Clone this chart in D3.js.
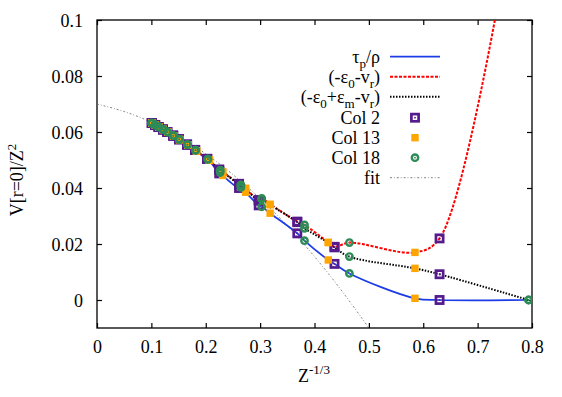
<!DOCTYPE html>
<html><head><meta charset="utf-8">
<script src="https://cdn.jsdelivr.net/npm/d3@7"></script>
<style>
body{margin:0;background:#fff}
</style>
</head><body><svg id="c" width="562" height="397"></svg>
<script>
// ---------- data ----------
const xTicks = [0, 0.1, 0.2, 0.3, 0.4, 0.5, 0.6, 0.7, 0.8];
const yTicks = [0, 0.02, 0.04, 0.06, 0.08, 0.1];

// Col 2 (purple squares)
const col2X     = [0.1007,0.1070,0.1132,0.1213,0.1293,0.1401,0.1507,0.1657,0.1805,0.2027,0.2248,0.2612,0.2974,0.3684,0.4368,0.6300];
const col2Tau   = [0.0632,0.0625,0.0618,0.0609,0.0600,0.0587,0.0574,0.0555,0.0536,0.0504,0.0452,0.0400,0.0338,0.0238,0.0129,0.0000];
const col2Red   = [0.0632,0.0625,0.0618,0.0609,0.0600,0.0587,0.0574,0.0555,0.0536,0.0504,0.0466,0.0415,0.0357,0.0280,0.0190,0.0220];
const col2Black = [0.0632,0.0625,0.0618,0.0609,0.0600,0.0587,0.0574,0.0555,0.0536,0.0504,0.0465,0.0413,0.0355,0.0278,0.0188,0.0092];

// Col 13 (orange squares)
const col13X     = [0.1009,0.1073,0.1137,0.1218,0.1300,0.1409,0.1519,0.1674,0.1831,0.2068,0.2311,0.2733,0.3184,0.4254,0.5848];
const col13Tau   = [0.0632,0.0625,0.0618,0.0609,0.0600,0.0586,0.0573,0.0553,0.0532,0.0499,0.0445,0.0385,0.0310,0.0143,0.0006];
const col13Red   = [0.0632,0.0625,0.0618,0.0609,0.0600,0.0586,0.0573,0.0553,0.0532,0.0499,0.0458,0.0399,0.0342,0.0206,0.0170];
const col13Black = [0.0632,0.0625,0.0618,0.0609,0.0600,0.0586,0.0573,0.0553,0.0532,0.0499,0.0457,0.0397,0.0340,0.0205,0.0113];

// Col 18 (green circles)
const col18X     = [0.1008,0.1071,0.1134,0.1215,0.1296,0.1403,0.1511,0.1662,0.1812,0.2038,0.2265,0.2646,0.3029,0.3816,0.4642,0.7937];
const col18Tau   = [0.0632,0.0625,0.0618,0.0609,0.0600,0.0587,0.0574,0.0555,0.0535,0.0503,0.0455,0.0402,0.0333,0.0212,0.0095,0.0000];
const col18Red   = [0.0632,0.0625,0.0618,0.0609,0.0600,0.0587,0.0574,0.0555,0.0535,0.0503,0.0464,0.0411,0.0363,0.0268,0.0205,0.1700];
const col18Black = [0.0632,0.0625,0.0618,0.0609,0.0600,0.0587,0.0574,0.0555,0.0535,0.0503,0.0463,0.0410,0.0360,0.0256,0.0155,0.0000];

// fit curve
const fitX = [0, 0.05, 0.1, 0.15, 0.2, 0.25, 0.3, 0.35, 0.4, 0.45, 0.5, 0.52];
const fitY = [0.0700, 0.0673, 0.0635, 0.0585, 0.0522, 0.0448, 0.0362, 0.0265, 0.0155, 0.0033, -0.0100, -0.0157];

// ---------- layout ----------
const FONT = "'Liberation Serif', Tinos, 'Times New Roman', Times, serif";
const svg = d3.select("#c");
const L = 97, R = 532, T = 20, B = 328;
const x = d3.scaleLinear().domain([0, 0.8]).range([L, R]);
const y = d3.scaleLinear().domain([-0.01, 0.1]).range([B, T]);

const colors = {blue:"#1c3ce6", red:"#ff0000", black:"#000", purple:"#551a8b", orange:"#ffa500", green:"#2e8b57", fit:"#777"};

svg.append("clipPath").attr("id","clip").append("rect")
  .attr("x",L).attr("y",T).attr("width",R-L).attr("height",B-T);

// axes (ticks inward, mirrored)
const tickLen = 5;
const axB = svg.append("g").attr("transform",`translate(0,${B})`)
  .call(d3.axisBottom(x).tickValues(xTicks).tickSize(-tickLen).tickPadding(12).tickFormat(d3.format("")));
const axT = svg.append("g").attr("transform",`translate(0,${T})`)
  .call(d3.axisTop(x).tickValues(xTicks).tickSize(-tickLen).tickFormat(""));
const axL = svg.append("g").attr("transform",`translate(${L},0)`)
  .call(d3.axisLeft(y).tickValues(yTicks).tickSize(-tickLen).tickPadding(14).tickFormat(d3.format("")));
const axR = svg.append("g").attr("transform",`translate(${R},0)`)
  .call(d3.axisRight(y).tickValues(yTicks).tickSize(-tickLen).tickFormat(""));
[axB,axT,axL,axR].forEach(a=>{
  a.attr("font-family",null).attr("font-size",null);
  a.select(".domain").remove();
  a.selectAll("line").attr("stroke","#000").attr("stroke-width",1.2);
  a.selectAll("text").style("font-family",FONT).style("font-size","18px").attr("fill","#000");
});
axT.selectAll("text").remove();
axR.selectAll("text").remove();
axB.selectAll("text").attr("dy","0.71em");
axL.selectAll("text").attr("dy","0.35em");
svg.append("rect").attr("x",L).attr("y",T).attr("width",R-L).attr("height",B-T)
  .attr("fill","none").attr("stroke","#000").attr("stroke-width",1.3);

// axis labels
const yl = svg.append("text").attr("transform","translate(23,180) rotate(-90)")
  .attr("text-anchor","middle").style("font-family",FONT).style("font-size","18px");
yl.append("tspan").text("V[r=0]/Z");
yl.append("tspan").style("font-size","13px").attr("dy",-7).text("2");

const xl = svg.append("text").attr("x",314).attr("y",382).attr("text-anchor","middle")
  .style("font-family",FONT).style("font-size","18px");
xl.append("tspan").text("Z");
xl.append("tspan").style("font-size","13px").attr("dy",-8).text("-1/3");

// ---------- data drawing ----------
const plot = svg.append("g").attr("clip-path","url(#clip)");

// fit
const fitPts = fitX.map((v,i)=>[v,fitY[i]]);
plot.append("path").datum(fitPts)
  .attr("d", d3.line().x(d=>x(d[0])).y(d=>y(d[1])).curve(d3.curveNatural))
  .attr("fill","none").attr("stroke",colors.fit).attr("stroke-width",0.9).attr("stroke-dasharray","2,2,0.8,2");

function merged(arrs){
  const pts=[];
  arrs.forEach(([xs,ys])=>xs.forEach((v,i)=>pts.push([v,ys[i]])));
  return pts.sort((a,b)=>a[0]-b[0]);
}
const tauPts   = merged([[col2X,col2Tau],[col13X,col13Tau],[col18X,col18Tau]]);
const redPts   = merged([[col2X,col2Red],[col13X,col13Red],[col18X,col18Red]]);
const blackPts = merged([[col2X,col2Black],[col13X,col13Black],[col18X,col18Black]]);
const lineGen = d3.line().x(d=>x(d[0])).y(d=>y(d[1])).curve(d3.curveCatmullRom.alpha(0.5));

plot.append("path").datum(tauPts).attr("d",lineGen).attr("fill","none")
  .attr("stroke",colors.blue).attr("stroke-width",1.7);
plot.append("path").datum(redPts).attr("d",lineGen).attr("fill","none")
  .attr("stroke",colors.red).attr("stroke-width",2).attr("stroke-dasharray","3,1.5");
plot.append("path").datum(blackPts).attr("d",lineGen).attr("fill","none")
  .attr("stroke",colors.black).attr("stroke-width",2).attr("stroke-dasharray","1.5,1.5");

// markers
function purpleMark(g){
  g.append("rect").attr("x",-3.6).attr("y",-3.6).attr("width",7.2).attr("height",7.2)
    .attr("fill","none").attr("stroke",colors.purple).attr("stroke-width",2.7);
  g.append("rect").attr("x",-0.8).attr("y",-0.8).attr("width",1.6).attr("height",1.6).attr("fill",colors.purple);
}
function orangeMark(g){
  g.append("rect").attr("x",-3.7).attr("y",-3.7).attr("width",7.4).attr("height",7.4).attr("fill",colors.orange);
}
function greenMark(g){
  g.append("circle").attr("r",3.2).attr("fill","none").attr("stroke",colors.green).attr("stroke-width",2.4);
  g.append("circle").attr("r",0.9).attr("fill",colors.green);
}
function drawSeries(xs, ysList, markFn){
  ysList.forEach(ys=>{
    xs.forEach((v,i)=>{
      const g = plot.append("g").attr("transform",`translate(${x(v)},${y(ys[i])})`);
      markFn(g);
    });
  });
}
drawSeries(col2X,[col2Tau,col2Red,col2Black],purpleMark);
drawSeries(col13X,[col13Tau,col13Red,col13Black],orangeMark);
drawSeries(col18X,[col18Tau,col18Red,col18Black],greenMark);

// ---------- legend ----------
const legX = 380, sx1 = 390, sx2 = 440, mx = 415;
const legRows = [56.7, 76.7, 96.7, 117.7, 137.7, 157.7, 177.7];
const leg = svg.append("g");
function legText(yy, parts){
  const t = leg.append("text").attr("x",legX).attr("y",yy + 6)
    .attr("text-anchor","end").style("font-family",FONT).style("font-size","18px");
  let shifted = 0;
  parts.forEach(p=>{
    if (typeof p === "string") {
      const s = t.append("tspan").text(p);
      if (shifted) { s.attr("dy", -shifted); shifted = 0; }
    } else {
      t.append("tspan").style("font-size","13px").attr("dy", 5 - shifted).text(p.t);
      shifted = 5;
    }
  });
}
legText(legRows[0], ["τ",{t:"p"},"/ρ"]);
legText(legRows[1], ["(-ε",{t:"0"},"-v",{t:"r"},")"]);
legText(legRows[2], ["(-ε",{t:"0"},"+ε",{t:"m"},"-v",{t:"r"},")"]);
legText(legRows[3], ["Col 2"]);
legText(legRows[4], ["Col 13"]);
legText(legRows[5], ["Col 18"]);
legText(legRows[6], ["fit"]);

leg.append("line").attr("x1",sx1).attr("x2",sx2).attr("y1",legRows[0]).attr("y2",legRows[0])
  .attr("stroke",colors.blue).attr("stroke-width",1.7);
leg.append("line").attr("x1",sx1).attr("x2",sx2).attr("y1",legRows[1]).attr("y2",legRows[1])
  .attr("stroke",colors.red).attr("stroke-width",2).attr("stroke-dasharray","3,1.5");
leg.append("line").attr("x1",sx1).attr("x2",sx2).attr("y1",legRows[2]).attr("y2",legRows[2])
  .attr("stroke",colors.black).attr("stroke-width",2).attr("stroke-dasharray","1.5,1.5");
purpleMark(leg.append("g").attr("transform",`translate(${mx},${legRows[3]})`));
orangeMark(leg.append("g").attr("transform",`translate(${mx},${legRows[4]})`));
greenMark(leg.append("g").attr("transform",`translate(${mx},${legRows[5]})`));
leg.append("line").attr("x1",sx1).attr("x2",sx2).attr("y1",legRows[6]).attr("y2",legRows[6])
  .attr("stroke",colors.fit).attr("stroke-width",0.9).attr("stroke-dasharray","2,2,0.8,2");
</script>
</body></html>
